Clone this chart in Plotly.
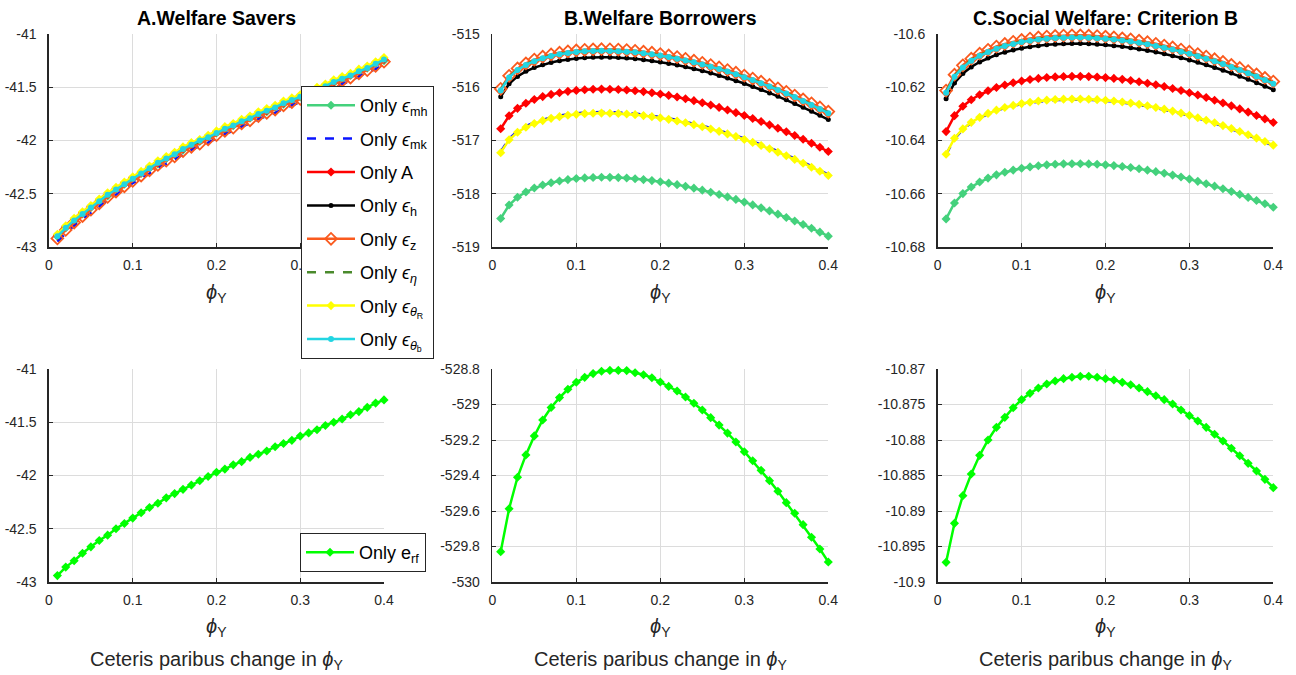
import plotly.graph_objects as go

# ---------------- data ----------------
phi_y = [0.01, 0.02, 0.03, 0.04, 0.05, 0.06, 0.07, 0.08, 0.09, 0.10,
         0.11, 0.12, 0.13, 0.14, 0.15, 0.16, 0.17, 0.18, 0.19, 0.20,
         0.21, 0.22, 0.23, 0.24, 0.25, 0.26, 0.27, 0.28, 0.29, 0.30,
         0.31, 0.32, 0.33, 0.34, 0.35, 0.36, 0.37, 0.38, 0.39, 0.40]

series_names = ["Only <i>ϵ</i><sub>mh</sub>", "Only <i>ϵ</i><sub>mk</sub>", "Only A", "Only <i>ϵ</i><sub>h</sub>",
                "Only <i>ϵ</i><sub>z</sub>", "Only <i>ϵ</i><sub><i>η</i></sub>",
                "Only <i>ϵ</i><sub><i>θ</i><sub>R</sub></sub>",
                "Only <i>ϵ</i><sub><i>θ</i><sub>b</sub></sub>"]
erf_name = "Only e<sub>rf</sub>"

# Panel A: Welfare Savers
A_mh = [-42.90,-42.82,-42.76,-42.69,-42.63,-42.57,-42.52,-42.46,-42.41,-42.36,-42.31,-42.26,-42.22,-42.17,-42.13,-42.09,-42.05,-42.01,-41.97,-41.93,-41.90,-41.86,-41.83,-41.79,-41.76,-41.73,-41.69,-41.66,-41.63,-41.59,-41.56,-41.53,-41.49,-41.46,-41.43,-41.39,-41.36,-41.32,-41.28,-41.25]
A_mk = [-42.95,-42.87,-42.80,-42.74,-42.68,-42.62,-42.56,-42.51,-42.46,-42.40,-42.36,-42.31,-42.26,-42.22,-42.18,-42.13,-42.09,-42.05,-42.02,-41.98,-41.94,-41.91,-41.87,-41.84,-41.80,-41.77,-41.74,-41.70,-41.67,-41.64,-41.60,-41.57,-41.54,-41.50,-41.47,-41.44,-41.40,-41.36,-41.33,-41.29]
A_A = [-42.89,-42.81,-42.75,-42.68,-42.62,-42.56,-42.51,-42.45,-42.40,-42.35,-42.30,-42.25,-42.21,-42.16,-42.12,-42.08,-42.04,-42.00,-41.96,-41.92,-41.89,-41.85,-41.82,-41.78,-41.75,-41.72,-41.68,-41.65,-41.62,-41.58,-41.55,-41.52,-41.48,-41.45,-41.42,-41.38,-41.35,-41.31,-41.27,-41.24]
A_h = [-42.90,-42.82,-42.75,-42.69,-42.63,-42.57,-42.51,-42.46,-42.41,-42.36,-42.31,-42.26,-42.21,-42.17,-42.13,-42.08,-42.04,-42.01,-41.97,-41.93,-41.89,-41.86,-41.82,-41.79,-41.75,-41.72,-41.69,-41.65,-41.62,-41.59,-41.56,-41.52,-41.49,-41.45,-41.42,-41.39,-41.35,-41.32,-41.28,-41.24]
A_z = [-42.92,-42.84,-42.77,-42.71,-42.65,-42.59,-42.53,-42.48,-42.43,-42.38,-42.33,-42.28,-42.23,-42.19,-42.15,-42.10,-42.06,-42.03,-41.99,-41.95,-41.91,-41.88,-41.84,-41.81,-41.77,-41.74,-41.71,-41.67,-41.64,-41.61,-41.58,-41.54,-41.51,-41.47,-41.44,-41.41,-41.37,-41.34,-41.30,-41.26]
A_eta = [-42.90,-42.82,-42.75,-42.69,-42.63,-42.57,-42.51,-42.46,-42.41,-42.36,-42.31,-42.26,-42.21,-42.17,-42.13,-42.08,-42.04,-42.01,-41.97,-41.93,-41.89,-41.86,-41.82,-41.79,-41.75,-41.72,-41.69,-41.65,-41.62,-41.59,-41.56,-41.52,-41.49,-41.45,-41.42,-41.39,-41.35,-41.32,-41.28,-41.24]
A_thR = [-42.88,-42.80,-42.73,-42.67,-42.61,-42.55,-42.49,-42.44,-42.39,-42.34,-42.29,-42.24,-42.19,-42.15,-42.11,-42.06,-42.02,-41.99,-41.95,-41.91,-41.87,-41.84,-41.80,-41.77,-41.73,-41.70,-41.67,-41.63,-41.60,-41.57,-41.54,-41.50,-41.47,-41.43,-41.40,-41.37,-41.33,-41.30,-41.26,-41.22]
A_thb = [-42.90,-42.82,-42.75,-42.69,-42.63,-42.57,-42.51,-42.46,-42.41,-42.36,-42.31,-42.26,-42.21,-42.17,-42.13,-42.08,-42.04,-42.00,-41.97,-41.93,-41.89,-41.86,-41.82,-41.79,-41.75,-41.72,-41.69,-41.65,-41.62,-41.59,-41.56,-41.52,-41.49,-41.45,-41.42,-41.39,-41.35,-41.32,-41.28,-41.24]
A_erf = [-42.94,-42.86,-42.80,-42.73,-42.67,-42.61,-42.56,-42.50,-42.45,-42.40,-42.35,-42.30,-42.26,-42.21,-42.17,-42.13,-42.09,-42.05,-42.01,-41.97,-41.94,-41.90,-41.87,-41.83,-41.80,-41.77,-41.73,-41.70,-41.67,-41.63,-41.60,-41.57,-41.53,-41.50,-41.47,-41.43,-41.40,-41.36,-41.32,-41.29]

# Panel B: Welfare Borrowers
B_mh = [-518.465,-518.211,-518.066,-517.967,-517.893,-517.837,-517.794,-517.760,-517.734,-517.715,-517.702,-517.694,-517.691,-517.692,-517.697,-517.705,-517.718,-517.734,-517.753,-517.775,-517.801,-517.829,-517.861,-517.895,-517.932,-517.971,-518.014,-518.059,-518.106,-518.157,-518.209,-518.265,-518.322,-518.383,-518.445,-518.511,-518.578,-518.648,-518.721,-518.796]
B_mk = [-517.209,-516.965,-516.826,-516.731,-516.660,-516.606,-516.564,-516.532,-516.507,-516.489,-516.476,-516.468,-516.465,-516.467,-516.472,-516.482,-516.495,-516.512,-516.532,-516.556,-516.583,-516.613,-516.646,-516.682,-516.721,-516.763,-516.808,-516.856,-516.907,-516.960,-517.016,-517.074,-517.136,-517.200,-517.266,-517.335,-517.407,-517.481,-517.558,-517.637]
B_A = [-516.779,-516.535,-516.396,-516.301,-516.230,-516.176,-516.134,-516.102,-516.077,-516.059,-516.046,-516.038,-516.035,-516.037,-516.042,-516.052,-516.065,-516.082,-516.102,-516.126,-516.153,-516.183,-516.216,-516.252,-516.291,-516.333,-516.378,-516.426,-516.477,-516.530,-516.586,-516.644,-516.706,-516.770,-516.836,-516.905,-516.977,-517.051,-517.128,-517.207]
B_h = [-516.179,-515.935,-515.796,-515.701,-515.630,-515.576,-515.534,-515.502,-515.477,-515.459,-515.446,-515.438,-515.435,-515.437,-515.442,-515.452,-515.465,-515.482,-515.502,-515.526,-515.553,-515.583,-515.616,-515.652,-515.691,-515.733,-515.778,-515.826,-515.877,-515.930,-515.986,-516.044,-516.106,-516.170,-516.236,-516.305,-516.377,-516.451,-516.528,-516.607]
B_z = [-516.029,-515.785,-515.646,-515.551,-515.480,-515.426,-515.384,-515.352,-515.327,-515.309,-515.296,-515.288,-515.285,-515.287,-515.292,-515.302,-515.315,-515.332,-515.352,-515.376,-515.403,-515.433,-515.466,-515.502,-515.541,-515.583,-515.628,-515.676,-515.727,-515.780,-515.836,-515.894,-515.956,-516.020,-516.086,-516.155,-516.227,-516.301,-516.378,-516.457]
B_eta = [-516.049,-515.805,-515.666,-515.571,-515.500,-515.446,-515.404,-515.372,-515.347,-515.329,-515.316,-515.308,-515.305,-515.307,-515.312,-515.322,-515.335,-515.352,-515.372,-515.396,-515.423,-515.453,-515.486,-515.522,-515.561,-515.603,-515.648,-515.696,-515.747,-515.800,-515.856,-515.914,-515.976,-516.040,-516.106,-516.175,-516.247,-516.321,-516.398,-516.477]
B_thR = [-517.229,-516.985,-516.846,-516.751,-516.680,-516.626,-516.584,-516.552,-516.527,-516.509,-516.496,-516.488,-516.485,-516.487,-516.492,-516.502,-516.515,-516.532,-516.552,-516.576,-516.603,-516.633,-516.666,-516.702,-516.741,-516.783,-516.828,-516.876,-516.927,-516.980,-517.036,-517.094,-517.156,-517.220,-517.286,-517.355,-517.427,-517.501,-517.578,-517.657]
B_thb = [-516.059,-515.815,-515.676,-515.581,-515.510,-515.456,-515.414,-515.382,-515.357,-515.339,-515.326,-515.318,-515.315,-515.317,-515.322,-515.332,-515.345,-515.362,-515.382,-515.406,-515.433,-515.463,-515.496,-515.532,-515.571,-515.613,-515.658,-515.706,-515.757,-515.810,-515.866,-515.924,-515.986,-516.050,-516.116,-516.185,-516.257,-516.331,-516.408,-516.487]
B_erf = [-529.829,-529.587,-529.410,-529.284,-529.177,-529.087,-529.017,-528.961,-528.914,-528.875,-528.847,-528.826,-528.813,-528.808,-528.808,-528.809,-528.821,-528.832,-528.849,-528.873,-528.898,-528.924,-528.958,-528.993,-529.031,-529.074,-529.116,-529.161,-529.211,-529.266,-529.317,-529.371,-529.429,-529.489,-529.553,-529.613,-529.677,-529.748,-529.814,-529.887]

# Panel C: Social Welfare, Criterion B
C_mh = [-10.66945,-10.66346,-10.65995,-10.65748,-10.65561,-10.65412,-10.65291,-10.65193,-10.65111,-10.65044,-10.64991,-10.64948,-10.64915,-10.64892,-10.64877,-10.64871,-10.64871,-10.64879,-10.64894,-10.64915,-10.64943,-10.64976,-10.65016,-10.65062,-10.65113,-10.65170,-10.65232,-10.65299,-10.65372,-10.65450,-10.65534,-10.65622,-10.65715,-10.65813,-10.65917,-10.66025,-10.66138,-10.66256,-10.66378,-10.66506]
C_mk = [-10.64535,-10.63936,-10.63585,-10.63338,-10.63151,-10.63002,-10.62881,-10.62783,-10.62701,-10.62634,-10.62581,-10.62538,-10.62505,-10.62482,-10.62467,-10.62461,-10.62461,-10.62470,-10.62485,-10.62508,-10.62537,-10.62573,-10.62615,-10.62663,-10.62717,-10.62778,-10.62843,-10.62915,-10.62992,-10.63075,-10.63163,-10.63257,-10.63356,-10.63460,-10.63569,-10.63684,-10.63804,-10.63929,-10.64059,-10.64194]
C_A = [-10.63665,-10.63066,-10.62715,-10.62468,-10.62281,-10.62132,-10.62011,-10.61913,-10.61831,-10.61764,-10.61711,-10.61668,-10.61635,-10.61612,-10.61597,-10.61591,-10.61591,-10.61600,-10.61615,-10.61638,-10.61667,-10.61703,-10.61745,-10.61793,-10.61847,-10.61908,-10.61973,-10.62045,-10.62122,-10.62205,-10.62293,-10.62387,-10.62486,-10.62590,-10.62699,-10.62814,-10.62934,-10.63059,-10.63189,-10.63324]
C_h = [-10.62435,-10.61836,-10.61485,-10.61238,-10.61051,-10.60902,-10.60781,-10.60683,-10.60601,-10.60534,-10.60481,-10.60438,-10.60405,-10.60382,-10.60367,-10.60361,-10.60361,-10.60370,-10.60385,-10.60408,-10.60437,-10.60473,-10.60515,-10.60563,-10.60617,-10.60678,-10.60743,-10.60815,-10.60892,-10.60975,-10.61063,-10.61157,-10.61256,-10.61360,-10.61469,-10.61584,-10.61704,-10.61829,-10.61959,-10.62094]
C_z = [-10.62125,-10.61526,-10.61175,-10.60928,-10.60741,-10.60592,-10.60471,-10.60373,-10.60291,-10.60224,-10.60171,-10.60128,-10.60095,-10.60072,-10.60057,-10.60051,-10.60051,-10.60060,-10.60075,-10.60098,-10.60127,-10.60163,-10.60205,-10.60253,-10.60307,-10.60368,-10.60433,-10.60505,-10.60582,-10.60665,-10.60753,-10.60847,-10.60946,-10.61050,-10.61159,-10.61274,-10.61394,-10.61519,-10.61649,-10.61784]
C_eta = [-10.62175,-10.61576,-10.61225,-10.60978,-10.60791,-10.60642,-10.60521,-10.60423,-10.60341,-10.60274,-10.60221,-10.60178,-10.60145,-10.60122,-10.60107,-10.60101,-10.60101,-10.60110,-10.60125,-10.60148,-10.60177,-10.60213,-10.60255,-10.60303,-10.60357,-10.60418,-10.60483,-10.60555,-10.60632,-10.60715,-10.60803,-10.60897,-10.60996,-10.61100,-10.61209,-10.61324,-10.61444,-10.61569,-10.61699,-10.61834]
C_thR = [-10.64515,-10.63916,-10.63565,-10.63318,-10.63131,-10.62982,-10.62861,-10.62763,-10.62681,-10.62614,-10.62561,-10.62518,-10.62485,-10.62462,-10.62447,-10.62441,-10.62441,-10.62450,-10.62465,-10.62488,-10.62517,-10.62553,-10.62595,-10.62643,-10.62697,-10.62758,-10.62823,-10.62895,-10.62972,-10.63055,-10.63143,-10.63237,-10.63336,-10.63440,-10.63549,-10.63664,-10.63784,-10.63909,-10.64039,-10.64174]
C_thb = [-10.62205,-10.61606,-10.61255,-10.61008,-10.60821,-10.60672,-10.60551,-10.60453,-10.60371,-10.60304,-10.60251,-10.60208,-10.60175,-10.60152,-10.60137,-10.60131,-10.60131,-10.60140,-10.60155,-10.60178,-10.60207,-10.60243,-10.60285,-10.60333,-10.60387,-10.60448,-10.60513,-10.60585,-10.60662,-10.60745,-10.60833,-10.60927,-10.61026,-10.61130,-10.61239,-10.61354,-10.61474,-10.61599,-10.61729,-10.61864]
C_erf = [-10.89723,-10.89174,-10.88784,-10.88479,-10.88216,-10.88000,-10.87822,-10.87681,-10.87545,-10.87432,-10.87343,-10.87268,-10.87211,-10.87169,-10.87136,-10.87117,-10.87103,-10.87103,-10.87117,-10.87136,-10.87155,-10.87188,-10.87221,-10.87268,-10.87319,-10.87376,-10.87432,-10.87493,-10.87577,-10.87657,-10.87732,-10.87822,-10.87920,-10.88014,-10.88117,-10.88221,-10.88329,-10.88437,-10.88554,-10.88671]

panel_titles = ["A.Welfare Savers", "B.Welfare Borrowers", "C.Social Welfare: Criterion B"]

x_tickvals = [0, 0.1, 0.2, 0.3, 0.4]
x_ticktext = ["0", "0.1", "0.2", "0.3", "0.4"]

yA_top_vals = [-43, -42.5, -42, -41.5, -41]
yA_top_text = ["-43", "-42.5", "-42", "-41.5", "-41"]
yB_top_vals = [-519, -518, -517, -516, -515]
yB_top_text = ["-519", "-518", "-517", "-516", "-515"]
yC_top_vals = [-10.68, -10.66, -10.64, -10.62, -10.60]
yC_top_text = ["-10.68", "-10.66", "-10.64", "-10.62", "-10.6"]
yA_bot_vals = [-43, -42.5, -42, -41.5, -41]
yA_bot_text = ["-43", "-42.5", "-42", "-41.5", "-41"]
yB_bot_vals = [-530, -529.8, -529.6, -529.4, -529.2, -529, -528.8]
yB_bot_text = ["-530", "-529.8", "-529.6", "-529.4", "-529.2", "-529", "-528.8"]
yC_bot_vals = [-10.9, -10.895, -10.89, -10.885, -10.88, -10.875, -10.87]
yC_bot_text = ["-10.9", "-10.895", "-10.89", "-10.885", "-10.88", "-10.875", "-10.87"]

# ---------------- styles ----------------
W, H = 1296, 675
styles = [
    dict(color="#44D17C", dash="solid", symbol="diamond", msize=7, mline=0),
    dict(color="#0A14FF", dash="dash", symbol=None, msize=0, mline=0),
    dict(color="#FF0000", dash="solid", symbol="diamond", msize=7, mline=0),
    dict(color="#000000", dash="solid", symbol="circle", msize=5, mline=0),
    dict(color="#FA5A1E", dash="solid", symbol="diamond-open", msize=9, mline=1.8),
    dict(color="#4A8A2C", dash="dash", symbol=None, msize=0, mline=0),
    dict(color="#FFFF00", dash="solid", symbol="diamond", msize=7, mline=0),
    dict(color="#22D5E2", dash="solid", symbol="circle", msize=6, mline=0),
]
erf_color = "#00FF00"

top_sets = [
    [A_mh, A_mk, A_A, A_h, A_z, A_eta, A_thR, A_thb],
    [B_mh, B_mk, B_A, B_h, B_z, B_eta, B_thR, B_thb],
    [C_mh, C_mk, C_A, C_h, C_z, C_eta, C_thR, C_thb],
]
bottom_sets = [A_erf, B_erf, C_erf]

xdoms = [(49 / W, 384 / W), (492.3 / W, 828.3 / W), (937.7 / W, 1273.3 / W)]
ydom_top = (1 - 247 / H, 1 - 34 / H)
ydom_bot = (1 - 582 / H, 1 - 369 / H)

yranges_top = [(-43, -41), (-519, -515), (-10.68, -10.60)]
yranges_bot = [(-43, -41), (-530, -528.8), (-10.9, -10.87)]
yticks_top = [(yA_top_vals, yA_top_text), (yB_top_vals, yB_top_text), (yC_top_vals, yC_top_text)]
yticks_bot = [(yA_bot_vals, yA_bot_text), (yB_bot_vals, yB_bot_text), (yC_bot_vals, yC_bot_text)]

FONT = "Liberation Sans, Arial, Helvetica, sans-serif"
TXT = "#262626"

fig = go.Figure()
layout = dict(
    template="none",
    width=W, height=H, margin=dict(l=0, r=0, t=0, b=0, pad=0, autoexpand=False),
    paper_bgcolor="white", plot_bgcolor="white",
    font=dict(family=FONT, color=TXT, size=14),
    showlegend=True,
)

def axis_common():
    return dict(showline=True, linecolor=TXT, linewidth=1.6, mirror=False,
                showgrid=True, gridcolor="#DCDCDC", gridwidth=1,
                ticks="inside", ticklen=4, tickcolor=TXT, tickwidth=1, zeroline=False,
                automargin=False,
                tickfont=dict(family=FONT, size=14, color=TXT))

annotations = []
for col in range(3):
    for row in range(2):
        idx = col * 2 + row + 1
        xa = "x" if idx == 1 else f"x{idx}"
        ya = "y" if idx == 1 else f"y{idx}"
        xkey = "xaxis" if idx == 1 else f"xaxis{idx}"
        ykey = "yaxis" if idx == 1 else f"yaxis{idx}"
        xax = axis_common()
        xax.update(domain=list(xdoms[col]), anchor=ya, range=[0, 0.4],
                   tickvals=x_tickvals, ticktext=x_ticktext, ticklabelstandoff=5)
        yax = axis_common()
        ydom = ydom_top if row == 0 else ydom_bot
        yr = yranges_top[col] if row == 0 else yranges_bot[col]
        tv, tt = yticks_top[col] if row == 0 else yticks_bot[col]
        yax.update(domain=list(ydom), anchor=xa, range=list(yr),
                   tickvals=tv, ticktext=tt, ticklabelstandoff=8)
        layout[xkey] = xax
        layout[ykey] = yax

        if row == 0:
            for i, (ys, st) in enumerate(zip(top_sets[col], styles)):
                mode = "lines+markers" if st["symbol"] else "lines"
                tr = dict(x=phi_y, y=ys, mode=mode, xaxis=xa, yaxis=ya,
                          name=series_names[i], legendgroup=f"g{i}",
                          showlegend=(col == 0), legend="legend",
                          line=dict(color=st["color"], width=2.5, dash=st["dash"]),
                          cliponaxis=False)
                if st["symbol"]:
                    tr["marker"] = dict(symbol=st["symbol"], size=st["msize"], color=st["color"],
                                        line=dict(width=st["mline"], color=st["color"]))
                fig.add_trace(go.Scatter(**tr))
        else:
            fig.add_trace(go.Scatter(
                x=phi_y, y=bottom_sets[col], mode="lines+markers", xaxis=xa, yaxis=ya,
                name=erf_name, showlegend=(col == 0), legend="legend2", legendgroup="erf",
                line=dict(color=erf_color, width=2.5),
                marker=dict(symbol="diamond", size=7, color=erf_color), cliponaxis=False))

        # x-axis label
        xc = (xdoms[col][0] + xdoms[col][1]) / 2
        ylab = 1 - (293 if row == 0 else 627) / H
        annotations.append(dict(text="<i>ϕ</i><sub>Y</sub>", x=xc, y=ylab, xref="paper", yref="paper",
                                showarrow=False, xanchor="center", yanchor="middle",
                                font=dict(family=FONT, size=20, color=TXT)))
        if row == 1:
            annotations.append(dict(text="Ceteris paribus change in <i>ϕ</i><sub>Y</sub>",
                                    x=xc, y=1 - 660 / H, xref="paper", yref="paper",
                                    showarrow=False, xanchor="center", yanchor="middle",
                                    font=dict(family=FONT, size=20, color=TXT)))
    # panel title
    xc = (xdoms[col][0] + xdoms[col][1]) / 2
    annotations.append(dict(text=f"<b>{panel_titles[col]}</b>", x=xc, y=1 - 18 / H,
                            xref="paper", yref="paper", showarrow=False,
                            xanchor="center", yanchor="middle",
                            font=dict(family=FONT, size=19.5, color="#000000")))

layout["annotations"] = annotations
layout["legend"] = dict(x=301 / W, y=1 - 86 / H, xanchor="left", yanchor="top",
                        bgcolor="white", bordercolor="#262626", borderwidth=1,
                        font=dict(family=FONT, size=18, color="#000000"),
                        tracegroupgap=7, itemwidth=48)
layout["legend2"] = dict(x=300 / W, y=1 - 533 / H, xanchor="left", yanchor="top",
                         bgcolor="white", bordercolor="#262626", borderwidth=1,
                         font=dict(family=FONT, size=18, color="#000000"), itemwidth=48)
fig.update_layout(**layout)
fig.write_html("out.html", config={"displayModeBar": False, "staticPlot": True},
               post_script="document.body.style.margin='0px';document.body.style.padding='0px';")
